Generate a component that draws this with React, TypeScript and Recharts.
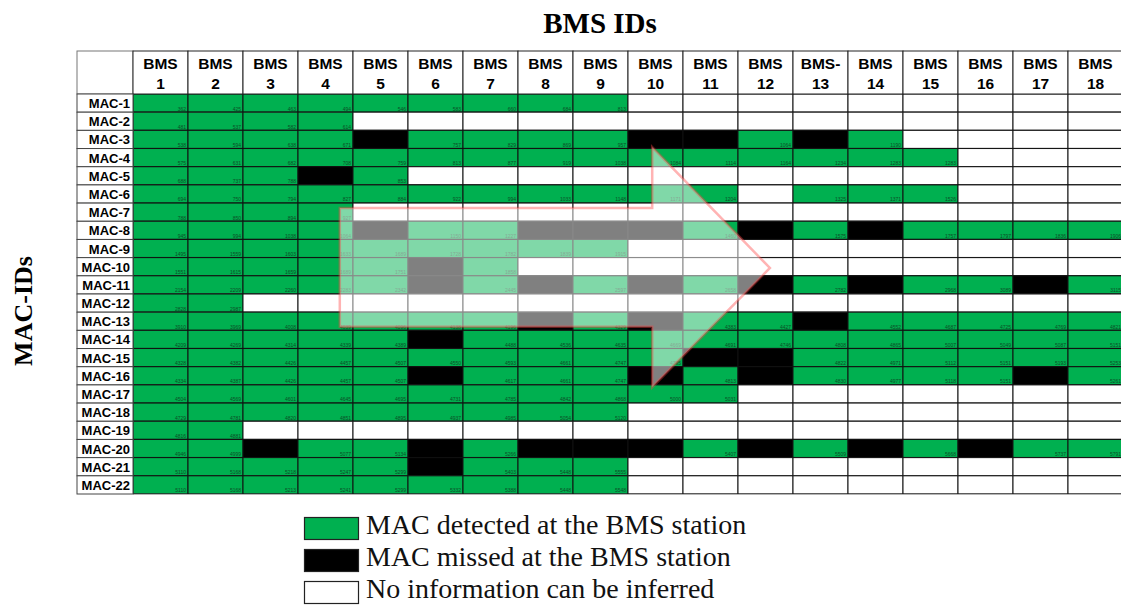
import React from 'react';
import { BarChart, Bar, XAxis, YAxis, Cell, LabelList, Legend } from 'recharts';

const bmsIds = [
  'BMS 1', 'BMS 2', 'BMS 3', 'BMS 4', 'BMS 5', 'BMS 6', 'BMS 7', 'BMS 8', 'BMS 9',
  'BMS 10', 'BMS 11', 'BMS 12', 'BMS- 13', 'BMS 14', 'BMS 15', 'BMS 16', 'BMS 17', 'BMS 18',
];

const macIds = [
  'MAC-1', 'MAC-2', 'MAC-3', 'MAC-4', 'MAC-5', 'MAC-6', 'MAC-7', 'MAC-8', 'MAC-9', 'MAC-10', 'MAC-11',
  'MAC-12', 'MAC-13', 'MAC-14', 'MAC-15', 'MAC-16', 'MAC-17', 'MAC-18', 'MAC-19', 'MAC-20', 'MAC-21', 'MAC-22',
];

// D = detected, M = missed, . = no information
const cellStatus = [
  'DDDDDDDDD.........',
  'DDDD..............',
  'DDDDMDDDDMMDMD....',
  'DDDDDDDDDDDDDDD...',
  'DDDMD.............',
  'DDDDDDDDDDD.DDD...',
  'DDDD..............',
  'DDDDMDDMMMDMDMDDDD',
  'DDDDDDDDD.........',
  'DDDDDMD...........',
  'DDDDDMDMDMDMDMDDMD',
  'DD................',
  'DDDDDDDMDMDDMDDDDD',
  'DDDDDMDDDDDDDDDDDD',
  'DDDDDDDDDDMMDDDDDD',
  'DDDDDMDDDMDMDDDDMD',
  'DDDDDDDDDDD.......',
  'DDDDDDDDD.........',
  'DD................',
  'DDMDDMDMMMDMDMDMDD',
  'DDDDDMDDD.........',
  'DDDDDDDDD.........',
];

// detection times for the detected cells of each row, left to right
const detectionTimes = [
  [362, 425, 463, 494, 546, 583, 660, 684, 813],
  [481, 537, 582, 614],
  [538, 594, 638, 671, 757, 829, 869, 957, 1064, 1190],
  [575, 631, 682, 708, 759, 813, 877, 919, 1038, 1084, 1114, 1164, 1234, 1283, 1283],
  [688, 737, 788, 853],
  [694, 750, 794, 827, 884, 922, 994, 1033, 1148, 1171, 1204, 1325, 1371, 1526],
  [788, 850, 894, 927],
  [945, 994, 1038, 1064, 1150, 1227, 1460, 1575, 1757, 1797, 1836, 1906],
  [1495, 1559, 1603, 1633, 1689, 1728, 1782, 1839, 1915],
  [1551, 1615, 1659, 1689, 1751, 1858],
  [2154, 2209, 2260, 2283, 2342, 2445, 2597, 2658, 2782, 2968, 3089, 3115],
  [2828, 2987],
  [3910, 3969, 4008, 4039, 4096, 4138, 4196, 4329, 4383, 4427, 4552, 4687, 4725, 4769, 4821],
  [4209, 4269, 4314, 4339, 4389, 4488, 4536, 4635, 4669, 4691, 4746, 4808, 4865, 5007, 5049, 5087, 5151],
  [4328, 4382, 4426, 4457, 4507, 4550, 4593, 4661, 4747, 4795, 4822, 4971, 5112, 5151, 5193, 5253],
  [4334, 4387, 4426, 4457, 4507, 4617, 4661, 4747, 4813, 4830, 4977, 5118, 5151, 5261],
  [4504, 4569, 4601, 4645, 4695, 4731, 4785, 4842, 4868, 5000, 5031],
  [4729, 4781, 4820, 4851, 4895, 4937, 4985, 5054, 5120],
  [4816, 4881],
  [4946, 4999, 5077, 5134, 5266, 5407, 5509, 5668, 5737, 5791],
  [5110, 5168, 5218, 5247, 5299, 5403, 5448, 5555],
  [5110, 5168, 5213, 5241, 5299, 5332, 5388, 5448, 5548],
];

const legendItems = [
  { code: 'D', label: 'MAC detected at the BMS station' },
  { code: 'M', label: 'MAC missed at the BMS station' },
  { code: '.', label: 'No information can be inferred' },
];

// arrow annotation in grid units (columns, rows)
const arrowShape = { shaftLeft: 3.76, shaftRight: 9.44, tipX: 11.58, shaftTop: 6.27, shaftBottom: 12.8, headTop: 2.92, headBottom: 16.12, tipY: 9.57 };

// ---- layout ----
const GREEN = '#00B050';
const colorOf = (s: string) => (s === 'D' ? GREEN : s === 'M' ? '#000000' : '#FFFFFF');
const CHART_W = 1130;
const CHART_H = 606;
const MARGIN = { top: 51, right: 7, bottom: 112, left: 77 };
const X_AXIS_H = 43;
const Y_AXIS_W = 56;
const PLOT_LEFT = MARGIN.left + Y_AXIS_W;
const PLOT_TOP = MARGIN.top + X_AXIS_H;
const PLOT_W = CHART_W - PLOT_LEFT - MARGIN.right;
const PLOT_H = CHART_H - PLOT_TOP - MARGIN.bottom;
const COL_W = PLOT_W / bmsIds.length;
const ROW_H = PLOT_H / macIds.length;

const timeGrid: (number | null)[][] = cellStatus.map((row, i) => {
  let k = 0;
  return row.split('').map((s) => (s === 'D' ? detectionTimes[i][k++] ?? null : null));
});

const data = macIds.map((mac) => {
  const r: any = { mac };
  bmsIds.forEach((_, j) => {
    r['c' + j] = 1;
  });
  return r;
});

const colTicks = bmsIds.map((_, j) => j + 0.5);

const HeaderTick = (props: any) => {
  const { x, payload } = props;
  const j = Math.floor(payload.value);
  const [l1, l2] = bmsIds[j].split(' ');
  const top = MARGIN.top;
  return (
    <g>
      {j === 0 && (
        <rect x={MARGIN.left} y={top} width={Y_AXIS_W} height={X_AXIS_H} fill="#fff" stroke="#777" strokeWidth={1} />
      )}
      <rect x={x - COL_W / 2} y={top} width={COL_W} height={X_AXIS_H} fill="#fff" stroke="#222" strokeWidth={1} />
      <text x={x} y={top + 18} textAnchor="middle" fontFamily="Liberation Sans, Arial, sans-serif" fontWeight="bold" fontSize={15.5} fill="#000">
        {l1}
      </text>
      <text x={x} y={top + 38} textAnchor="middle" fontFamily="Liberation Sans, Arial, sans-serif" fontWeight="bold" fontSize={15.5} fill="#000">
        {l2}
      </text>
    </g>
  );
};

const RowTick = (props: any) => {
  const { y, payload } = props;
  return (
    <g>
      <rect x={MARGIN.left} y={y - ROW_H / 2} width={Y_AXIS_W} height={ROW_H} fill="#fff" stroke="#444" strokeWidth={1} />
      <text x={PLOT_LEFT - 3} y={y + 5} textAnchor="end" fontFamily="Liberation Sans, Arial, sans-serif" fontWeight="bold" fontSize={13} fill="#000">
        {payload.value}
      </text>
    </g>
  );
};

const makeTimeLabel = (j: number) => (props: any) => {
  const { x, y, width, height, index } = props;
  const t = timeGrid[index]?.[j];
  if (t == null) return null;
  return (
    <text x={x + width - 2} y={y + height - 1.5} textAnchor="end" fontFamily="Liberation Sans, Arial, sans-serif" fontSize={5} fill="#0d4f27">
      {t}
    </text>
  );
};

const LegendBox = () => (
  <svg width={480} height={100} style={{ overflow: 'visible' }}>
    {legendItems.map((it, k) => (
      <g key={it.code}>
        <rect x={4.5} y={11.5 + k * 32} width={54} height={22} fill={colorOf(it.code)} stroke="#222" strokeWidth={1.2} />
        <text x={66} y={28 + k * 32} fontFamily="Liberation Serif, Times New Roman, serif" fontSize={28} fill="#111">
          {it.label}
        </text>
      </g>
    ))}
  </svg>
);

const Overlay = () => {
  const px = (u: number) => PLOT_LEFT + u * COL_W;
  const py = (r: number) => PLOT_TOP + r * ROW_H;
  const a = arrowShape;
  const pts = [
    [px(a.shaftLeft), py(a.shaftTop)],
    [px(a.shaftRight), py(a.shaftTop)],
    [px(a.shaftRight), py(a.headTop)],
    [px(a.tipX), py(a.tipY)],
    [px(a.shaftRight), py(a.headBottom)],
    [px(a.shaftRight), py(a.shaftBottom)],
    [px(a.shaftLeft), py(a.shaftBottom)],
  ]
    .map((p) => p.join(','))
    .join(' ');
  return (
    <svg width={1121} height={606} style={{ position: 'absolute', left: 0, top: 0, pointerEvents: 'none' }}>
      <polygon points={pts} fill="#ffffff" fillOpacity={0.5} stroke="#ff4040" strokeOpacity={0.4} strokeWidth={2.5} strokeLinejoin="miter" />
      <text x={600} y={33} textAnchor="middle" fontFamily="Liberation Serif, Times New Roman, serif" fontWeight="bold" fontSize={29} fill="#000">
        BMS IDs
      </text>
      <text x={32} y={311} transform="rotate(-90 32 311)" textAnchor="middle" fontFamily="Liberation Serif, Times New Roman, serif" fontWeight="bold" fontSize={26} fill="#000">
        MAC-IDs
      </text>
    </svg>
  );
};

export default function App() {
  return (
    <div style={{ position: 'absolute', left: 0, top: 0, width: 1121, height: 606, overflow: 'hidden', background: '#fff' }}>
      <BarChart width={CHART_W} height={CHART_H} data={data} layout="vertical" margin={MARGIN} barCategoryGap={0} barGap={0}>
        <XAxis
          type="number"
          orientation="top"
          domain={[0, bmsIds.length]}
          ticks={colTicks}
          interval={0}
          height={X_AXIS_H}
          axisLine={false}
          tickLine={false}
          tick={<HeaderTick />}
          allowDataOverflow
        />
        <YAxis type="category" dataKey="mac" width={Y_AXIS_W} interval={0} axisLine={false} tickLine={false} tick={<RowTick />} />
        <Legend
          layout="vertical"
          align="center"
          verticalAlign="middle"
          content={() => <LegendBox />}
          wrapperStyle={{ position: 'absolute', left: 300, top: 506, width: 480, height: 100 }}
        />
        {bmsIds.map((b, j) => (
          <Bar key={b} dataKey={'c' + j} stackId="grid" isAnimationActive={false} stroke="#111" strokeWidth={1}>
            {macIds.map((m, i) => (
              <Cell key={m} fill={colorOf(cellStatus[i][j])} />
            ))}
            <LabelList dataKey={'c' + j} content={makeTimeLabel(j)} />
          </Bar>
        ))}
      </BarChart>
      <Overlay />
    </div>
  );
}
